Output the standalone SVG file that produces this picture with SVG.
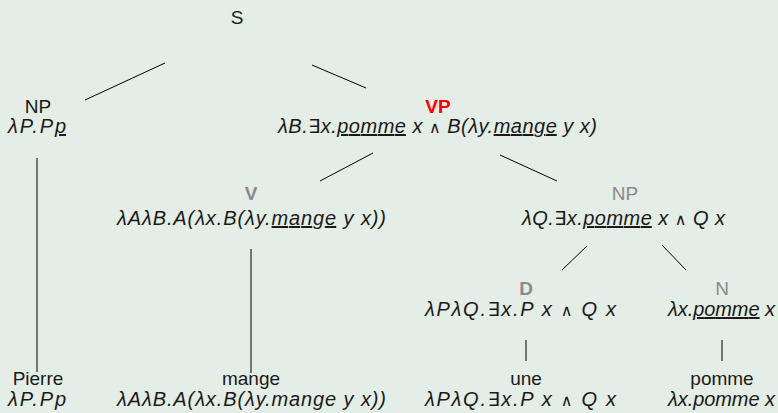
<svg xmlns="http://www.w3.org/2000/svg" width="778" height="413" viewBox="0 0 778 413">
<style>
text{font-family:"Liberation Sans",Arial,sans-serif;font-size:19px;fill:#1a1a1a;text-anchor:middle}
.f{font-style:italic;font-size:20px}
.s{font-style:normal;font-family:"DejaVu Sans",sans-serif;font-size:16px}
.e{font-style:normal;font-family:"DejaVu Sans",sans-serif;font-size:19px}
.u{text-decoration:underline}
.g{fill:#8a8a8a}
.b{font-weight:bold}
.r{fill:#ff0000;font-weight:bold}
#edges line{stroke:#000;stroke-width:1}
</style>
<rect width="778" height="413" fill="#e4ede6"/>
<g id="edges">
<line x1="85" y1="100" x2="165" y2="63"/>
<line x1="312" y1="65" x2="366" y2="88"/>
<line x1="37" y1="158" x2="37" y2="372"/>
<line x1="320" y1="181" x2="373" y2="153"/>
<line x1="500" y1="155" x2="557" y2="181"/>
<line x1="251" y1="249" x2="251" y2="373"/>
<line x1="562" y1="270" x2="587" y2="246"/>
<line x1="662" y1="245" x2="686" y2="270"/>
<line x1="526" y1="340" x2="526" y2="361"/>
<line x1="722" y1="340" x2="722" y2="361"/>
</g>
<g id="S"><text x="237" y="24">S</text></g>
<g id="NP1"><text x="38" y="113">NP</text><text class="f" x="37" y="133" textLength="58" lengthAdjust="spacing">λP.P<tspan class="u">p</tspan></text></g>
<g id="VP"><text class="r" x="438" y="113">VP</text><text class="f" x="437.5" y="133" textLength="319" lengthAdjust="spacing">λB.<tspan class="e">∃</tspan>x.<tspan class="u">pomme</tspan> x <tspan class="s">∧</tspan> B(λy.<tspan class="u">mange</tspan> y x)</text></g>
<g id="V"><text class="g b" x="251" y="200">V</text><text class="f" x="251.5" y="225" textLength="269" lengthAdjust="spacing">λAλB.A(λx.B(λy.<tspan class="u">mange</tspan> y x))</text></g>
<g id="NP2"><text class="g" x="625" y="200">NP</text><text class="f" x="623.5" y="225" textLength="203" lengthAdjust="spacing">λQ.<tspan class="e">∃</tspan>x.<tspan class="u">pomme</tspan> x <tspan class="s">∧</tspan> Q x</text></g>
<g id="D"><text class="g b" x="526" y="295">D</text><text class="f" x="520.5" y="316" textLength="191" lengthAdjust="spacing">λPλQ.<tspan class="e">∃</tspan>x.P x <tspan class="s">∧</tspan> Q x</text></g>
<g id="N"><text class="g" x="722" y="295">N</text><text class="f" x="721.5" y="316" textLength="107" lengthAdjust="spacing">λx.<tspan class="u">pomme</tspan> x</text></g>
<g id="Pierre"><text x="38" y="385">Pierre</text><text class="f" x="37" y="406" textLength="58" lengthAdjust="spacing">λP.Pp</text></g>
<g id="mange"><text x="251" y="385">mange</text><text class="f" x="251.5" y="406" textLength="269" lengthAdjust="spacing">λAλB.A(λx.B(λy.mange y x))</text></g>
<g id="une"><text x="526" y="385">une</text><text class="f" x="520.5" y="406" textLength="191" lengthAdjust="spacing">λPλQ.<tspan class="e">∃</tspan>x.P x <tspan class="s">∧</tspan> Q x</text></g>
<g id="pomme"><text x="722" y="385">pomme</text><text class="f" x="721.5" y="406" textLength="107" lengthAdjust="spacing">λx.pomme x</text></g>
</svg>
